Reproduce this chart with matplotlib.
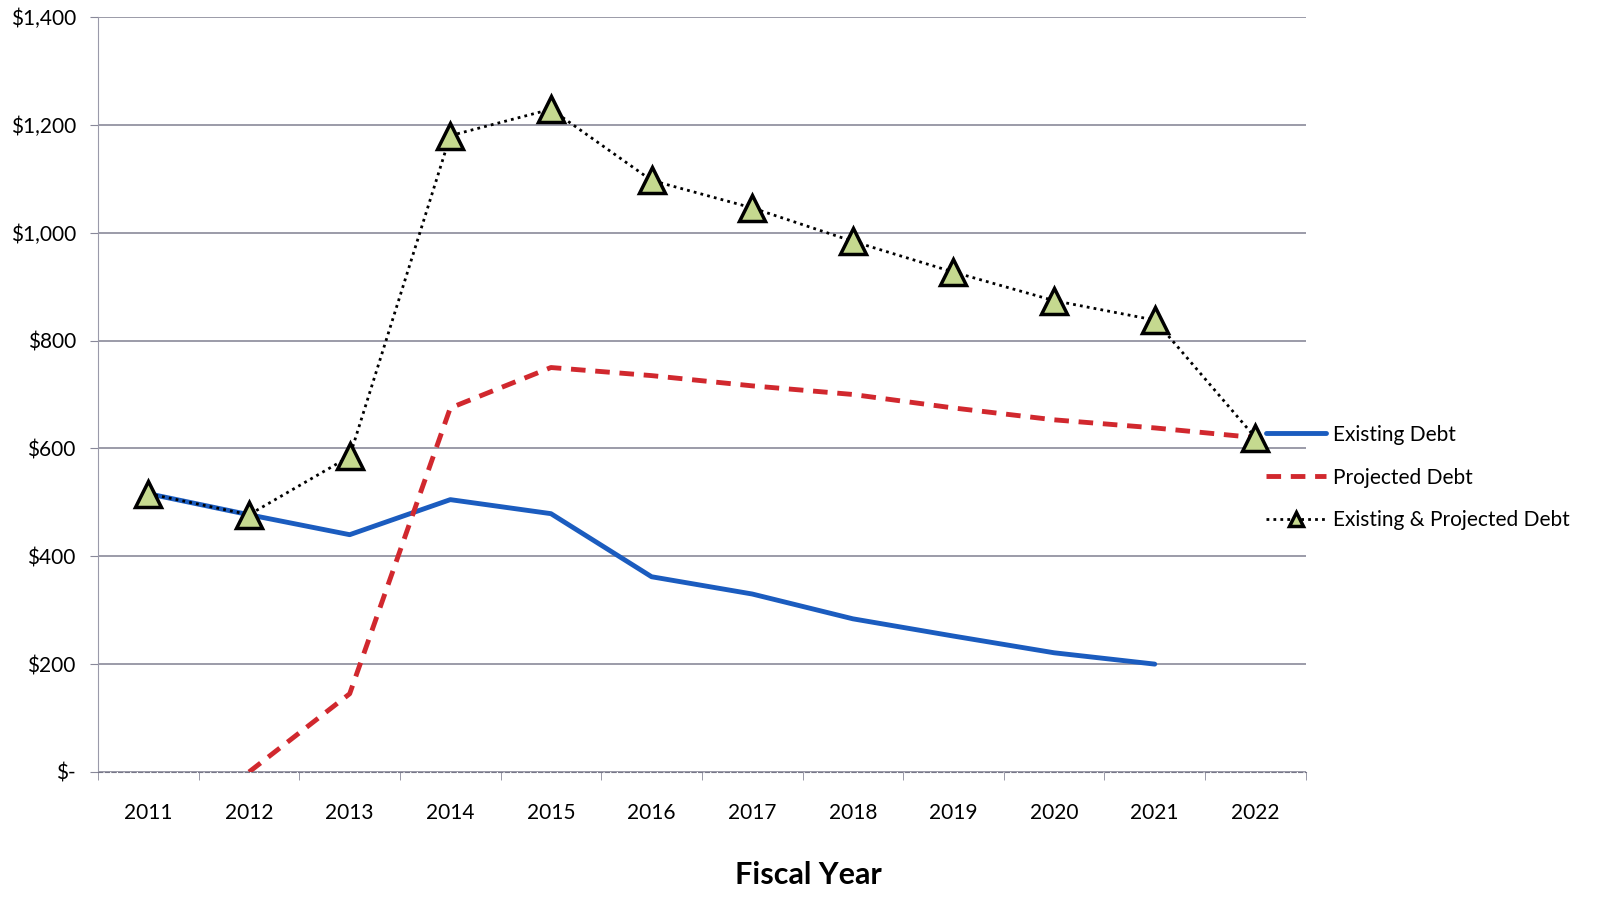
import numpy as np
import matplotlib.pyplot as plt
from matplotlib.ticker import FuncFormatter, MultipleLocator

years = ['2011', '2012', '2013', '2014', '2015', '2016', '2017', '2018', '2019', '2020', '2021', '2022']
existing = [516, 477, 440, 505, 479, 362, 330, 284, 252, 221, 200, np.nan]
projected = [np.nan, 0, 145, 675, 750, 735, 716, 700, 675, 653, 638, 620]
combined = [516, 477, 585, 1180, 1229, 1097, 1046, 984, 927, 874, 838, 620]

plt.rcParams['font.family'] = ['Lato', 'DejaVu Sans']

fig = plt.figure(figsize=(16.08, 9.19), dpi=100)
ax = fig.add_axes([0.061, 0.160, 0.751, 0.8215])

x = np.arange(len(years))
ax.plot(x, existing, color='#1b5cbf', lw=3.5, label='Existing Debt', solid_capstyle='round')
ax.plot(x, projected, color='#d1282e', lw=3.5, ls=(0, (3, 2)), label='Projected Debt')
ax.plot(x, combined, color='black', lw=2, ls=(0, (1, 1.5)), marker='^', ms=19,
        mfc='#c5d98f', mec='black', mew=2.5, label='Existing & Projected Debt')

ax.set_xlim(-0.5, len(years) - 0.5)
ax.set_ylim(0, 1400)
ax.yaxis.set_major_locator(MultipleLocator(200))

def dollars(v, pos):
    if v == 0:
        return '$-'
    return '${:,.0f}'.format(v)

ax.yaxis.set_major_formatter(FuncFormatter(dollars))
ax.set_xticks(x)
ax.set_xticklabels(years)
ax.set_xticks(np.arange(-0.5, len(years), 1), minor=True)
ax.tick_params(axis='x', which='major', length=0, pad=22, labelsize=15)
ax.tick_params(axis='x', which='minor', length=6, color='#888899', direction='out')
ax.tick_params(axis='y', length=6, color='#888899', pad=10, labelsize=15)

ax.grid(axis='y', color='#8a8a9a', lw=1.2)
ax.set_axisbelow(True)
for s in ['top', 'right']:
    ax.spines[s].set_visible(False)
ax.spines['left'].set_color('#9a9aaa')
ax.spines['bottom'].set_color('#777788')
ax.spines['bottom'].set_linestyle((0, (4, 2)))

ax.set_xlabel('Fiscal Year', fontsize=22, fontweight='bold')
ax.xaxis.set_label_coords(0.588, -0.118)

ax.legend(loc='center left', bbox_to_anchor=(0.967, 0.39), borderaxespad=0, borderpad=0,
          frameon=False, fontsize=15, handlelength=2.9, handletextpad=0.3,
          labelspacing=1.1, markerscale=0.55)

fig.savefig('out.png', dpi=100)
